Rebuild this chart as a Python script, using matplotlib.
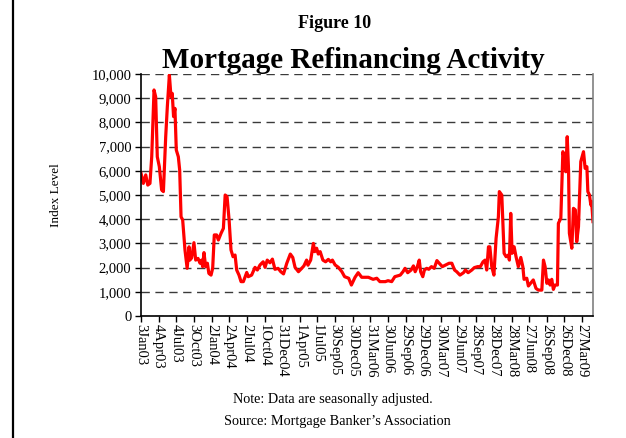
import numpy as np
import matplotlib.pyplot as plt
from matplotlib.ticker import FuncFormatter
from matplotlib.lines import Line2D

# weeks since 3Jan03 and MBA refinance index
weeks = [0, 1.7, 3.5, 5, 6.6, 7.9, 9.6, 10.8, 12, 13.5, 15.2, 16.5, 18.2, 19.4, 20.9,
         22.1, 23, 24, 25, 26, 27.5, 28.5, 29.5, 30.7, 32.4, 34, 35.4, 36, 37.3, 39,
         40.3, 42, 43.5, 44.7, 45.4, 46.4, 47.6, 48.9, 50, 51.6, 52.8, 54, 55.7, 57,
         59, 60.7, 62, 63.4, 64.9, 66.3, 67.8, 69.3, 70.5, 72.2, 73.7, 75.4, 77.9, 79,
         81.5, 84, 85.7, 87.7, 90, 91.4, 93, 95, 96.8, 98.7, 101, 103, 105, 107.4, 110,
         111.8, 113.5, 116, 118.4, 120, 122, 123, 125, 127, 128, 129.4, 130.6, 132, 134,
         136, 138, 139.8, 141, 143, 145.4, 148, 150, 153, 155, 157.7, 160, 162.6, 167.5,
         171, 173.7, 176, 180, 182, 184.7, 187, 191, 193, 194.5, 196.5, 199, 200.7, 202,
         203.6, 205, 206, 207.6, 208.8, 210.5, 212, 214, 216, 218, 219.7, 222, 224.5,
         227, 229, 231, 232.6, 235, 237.6, 239, 241, 243.7, 245.6, 248, 250, 252, 253.5,
         254.7, 256, 257, 258.4, 260, 261.6, 263.3, 264, 265.8, 267.5, 269, 270.7, 271.4,
         272.4, 273.4, 274.9, 276.3, 278, 279.8, 281.3, 282.2, 284.2, 285.4, 287, 289,
         291, 292.8, 295.3, 296.5, 297.7, 299, 300.2, 301.4, 302.6, 303.8, 305, 306.8,
         307.5, 309.3, 310.8, 312, 313, 314, 315, 315.6, 317.4, 318.6, 320, 321, 322.3,
         324, 326, 327.2, 328.5, 329.2, 330.4, 331.4, 332, 333]
index = [5900, 5480, 5830, 5410, 5480, 6580, 9340, 9060, 6580, 6170, 5210, 5140, 7410,
         8650, 9960, 9060, 9200, 8240, 8580, 6860, 6580, 6030, 4100, 3970, 2730, 1970,
         2860, 2310, 2400, 3030, 2310, 2380, 2180, 2310, 2040, 2620, 2040, 2180, 1760,
         1690, 1970, 3350, 3350, 3140, 3420, 3620, 5000, 4930, 3970, 2730, 2450, 2520,
         1900, 1690, 1420, 1420, 1800, 1625, 1690, 2010, 1900, 2110, 2240, 2010, 2310,
         2200, 2350, 1930, 1970, 1830, 1740, 2180, 2560, 2420, 2010, 1830, 1970, 2070,
         2310, 2100, 2310, 3000, 2660, 2800, 2560, 2660, 2310, 2240, 2340, 2240, 2310,
         2110, 2010, 1830, 1625, 1560, 1280, 1600, 1790, 1600, 1600, 1515, 1560, 1420,
         1420, 1460, 1420, 1625, 1690, 1830, 1970, 1790, 1900, 2070, 1830, 2040, 2310,
         1830, 1625, 1900, 1970, 1930, 2040, 1970, 2290, 2180, 2040, 2110, 2180, 2180,
         1900, 1830, 1690, 1790, 1900, 1790, 1900, 2000, 2040, 2040, 2240, 2310, 1900,
         2860, 2860, 2040, 1690, 3210, 4100, 5140, 5000, 2590, 2450, 2520, 2310, 4240,
         2590, 2860, 2450, 2040, 2420, 2040, 1515, 1560, 1240, 1350, 1490, 1140, 1070,
         1070, 2310, 2040, 1350, 1490, 1280, 1515, 1100, 1280, 1280, 3830, 4040, 6790,
         6450, 5960, 7410, 6030, 3420, 2800, 4450, 4380, 3070, 3690, 6380, 6790, 6100,
         6170, 5140, 5000, 4590, 4730, 3900]

tick_weeks = list(range(0, 326, 13))
tick_labels = ['3Jan03', '4Apr03', '4Jul03', '3Oct03', '2Jan04', '2Apr04', '2Jul04',
               '1Oct04', '31Dec04', '1Apr05', '1Jul05', '30Sep05', '30Dec05', '31Mar06',
               '30Jun06', '29Sep06', '29Dec06', '30Mar07', '29Jun07', '28Sep07',
               '28Dec07', '28Mar08', '27Jun08', '26Sep08', '26Dec08', '27Mar09']

plt.rcParams['font.family'] = 'Liberation Serif'

fig = plt.figure(figsize=(6.26, 4.38), dpi=100)
ax = fig.add_axes([141 / 626, 1 - 316 / 438, 452 / 626, 242 / 438])

ax.plot(weeks, index, color='#ff0000', lw=2.3, solid_joinstyle='round')

ax.set_xlim(0, 333)
ax.set_ylim(0, 10000)
ax.set_yticks(range(0, 10001, 1000))
ax.yaxis.set_major_formatter(FuncFormatter(lambda v, p: f'{int(v):,}'))
ax.set_xticks(tick_weeks)
ax.set_xticklabels(tick_labels, rotation=270)
ax.tick_params(axis='both', labelsize=10.5, direction='out', length=4, width=1, colors='black')
ax.tick_params(axis='x', pad=2)
ax.tick_params(axis='y', pad=3)

ax.yaxis.grid(True, color='#3a3a3a', linestyle=(0, (6, 4)), lw=1)
ax.set_axisbelow(True)
ax.spines['top'].set_visible(False)
ax.spines['right'].set_color('#808080')
ax.spines['right'].set_linewidth(1.2)
ax.spines['left'].set_linewidth(1.2)
ax.spines['bottom'].set_linewidth(1.2)

ax.set_ylabel('Index Level', fontsize=9.5)
ax.yaxis.set_label_coords((62 - 141) / 452, 0.5)

fig.text(335 / 626, 1 - 23 / 438, 'Figure 10', ha='center', va='center',
         fontsize=13, fontweight='bold')
fig.text(353 / 626, 1 - 61 / 438, 'Mortgage Refinancing Activity', ha='center',
         va='center', fontsize=21, fontweight='bold')
fig.text(333 / 626, 1 - 400 / 438, 'Note: Data are seasonally adjusted.', ha='center',
         va='center', fontsize=10.3)
fig.text(337 / 626, 1 - 422 / 438, "Source: Mortgage Banker\u2019s Association", ha='center',
         va='center', fontsize=10.3)

fig.add_artist(Line2D([13 / 626, 13 / 626], [0, 1], color='black', lw=1.6,
                      transform=fig.transFigure))

fig.savefig('out.png', dpi=100)
